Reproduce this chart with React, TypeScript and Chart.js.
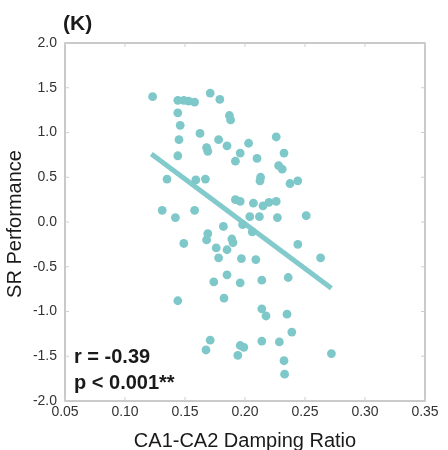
import React, { useEffect, useRef } from "react";
import { Chart, registerables } from "chart.js";

Chart.register(...registerables);

// Damping ratio (x) and SR performance (y) for each subject
const dampingRatio: number[] = [
  0.123, 0.144, 0.149, 0.153, 0.158, 0.171, 0.179, 0.144, 0.146, 0.1625,
  0.145, 0.178, 0.187, 0.188, 0.168, 0.169, 0.185, 0.144, 0.135, 0.167,
  0.159, 0.203, 0.226, 0.196, 0.192, 0.21, 0.2325, 0.228, 0.231, 0.213,
  0.2125, 0.2375, 0.244, 0.131, 0.142, 0.158, 0.182, 0.169, 0.168, 0.149,
  0.176, 0.178, 0.185, 0.174, 0.185, 0.192, 0.196, 0.207, 0.215, 0.22,
  0.226, 0.251, 0.204, 0.212, 0.227, 0.198, 0.206, 0.189, 0.19, 0.244,
  0.197, 0.209, 0.263, 0.196, 0.214, 0.236, 0.144, 0.1825, 0.171, 0.1675,
  0.214, 0.2175, 0.235, 0.239, 0.214, 0.2286, 0.196, 0.199, 0.194, 0.272,
  0.2325, 0.233,
];
const srPerformance: number[] = [
  1.4, 1.36, 1.36, 1.35, 1.34, 1.44, 1.37, 1.22, 1.08, 0.99,
  0.92, 0.92, 1.19, 1.14, 0.83, 0.79, 0.85, 0.74, 0.48, 0.48,
  0.47, 0.88, 0.95, 0.77, 0.68, 0.71, 0.77, 0.63, 0.59, 0.5,
  0.46, 0.43, 0.46, 0.13, 0.05, 0.13, -0.05, -0.13, -0.2, -0.24,
  -0.29, -0.4, -0.31, -0.67, -0.59, 0.25, 0.23, 0.21, 0.18, 0.22,
  0.23, 0.07, 0.06, 0.06, 0.05, -0.03, -0.11, -0.19, -0.23, -0.25,
  -0.41, -0.42, -0.4, -0.68, -0.65, -0.62, -0.88, -0.85, -1.32, -1.43,
  -0.97, -1.05, -1.03, -1.23, -1.33, -1.34, -1.38, -1.4, -1.49, -1.47,
  -1.55, -1.7,
];
// Regression line end points
const fitX: number[] = [0.122, 0.272];
const fitY: number[] = [0.76, -0.74];

const xTicks: number[] = [0.05, 0.1, 0.15, 0.2, 0.25, 0.3, 0.35];
const yTicks: number[] = [-2, -1.5, -1, -0.5, 0, 0.5, 1, 1.5, 2];

const panelLabel = "(K)";
const xTitle = "CA1-CA2 Damping Ratio";
const yTitle = "SR Performance";
const statR = "r = -0.39";
const statP = "p < 0.001**";

const FONT = "Arial, 'Liberation Sans', Helvetica, sans-serif";
const DOT = "rgb(126,200,201)";

const decor = {
  id: "decor",
  afterDraw(chart: any) {
    const { ctx, chartArea: a, scales } = chart;
    ctx.save();
    // box
    ctx.strokeStyle = "#b8b8b8";
    ctx.lineWidth = 1.5;
    ctx.strokeRect(a.left, a.top, a.right - a.left, a.bottom - a.top);
    // inward ticks
    ctx.lineWidth = 1;
    ctx.strokeStyle = "#cfcfcf";
    ctx.beginPath();
    xTicks.forEach((v) => {
      const px = scales.x.getPixelForValue(v);
      ctx.moveTo(px, a.bottom);
      ctx.lineTo(px, a.bottom - 4);
      ctx.moveTo(px, a.top);
      ctx.lineTo(px, a.top + 4);
    });
    yTicks.forEach((v) => {
      const py = scales.y.getPixelForValue(v);
      ctx.moveTo(a.left, py);
      ctx.lineTo(a.left + 4, py);
      ctx.moveTo(a.right, py);
      ctx.lineTo(a.right - 4, py);
    });
    ctx.stroke();

    ctx.fillStyle = "#1a1a1a";
    // panel label
    ctx.font = `bold 21px ${FONT}`;
    ctx.textAlign = "left";
    ctx.textBaseline = "alphabetic";
    ctx.fillText(panelLabel, 63, 30);
    // stats
    ctx.font = `bold 20px ${FONT}`;
    ctx.fillText(statR, 74, 363);
    ctx.fillText(statP, 74, 389);
    // x title
    ctx.font = `20px ${FONT}`;
    ctx.textAlign = "center";
    ctx.fillText(xTitle, (a.left + a.right) / 2 + 0, 447);
    // y title
    ctx.translate(21, (a.top + a.bottom) / 2 + 2);
    ctx.rotate(-Math.PI / 2);
    ctx.fillText(yTitle, 0, 0);
    ctx.restore();
  },
};

export default function App() {
  const ref = useRef<HTMLCanvasElement | null>(null);
  useEffect(() => {
    document.body.style.margin = "0";
    const canvas = ref.current;
    if (!canvas) return;
    const points = dampingRatio.map((x, i) => ({ x, y: srPerformance[i] }));
    const fit = fitX.map((x, i) => ({ x, y: fitY[i] }));
    const chart = new Chart(canvas, {
      type: "scatter",
      data: {
        datasets: [
          {
            type: "line",
            data: fit,
            borderColor: "rgb(130,202,203)",
            borderWidth: 5,
            pointRadius: 0,
            fill: false,
            order: 2,
          } as any,
          {
            data: points,
            backgroundColor: DOT,
            borderWidth: 0,
            pointRadius: 4.4,
            order: 1,
          },
        ],
      },
      options: {
        animation: false,
        responsive: false,
        events: [],
        layout: { padding: { top: 43, right: 23, left: 0, bottom: 0 } },
        plugins: { legend: { display: false }, tooltip: { enabled: false } },
        scales: {
          x: {
            type: "linear",
            min: 0.05,
            max: 0.35,
            afterBuildTicks: (s: any) => {
              s.ticks = xTicks.map((v) => ({ value: v }));
            },
            afterFit: (s: any) => {
              s.height = 49;
            },
            grid: { display: false, drawTicks: false },
            border: { display: false },
            ticks: {
              padding: 3,
              color: "#333",
              font: { family: FONT, size: 14 },
              maxRotation: 0,
              autoSkip: false,
              callback: (v: any) => Number(v).toFixed(2),
            },
          },
          y: {
            type: "linear",
            min: -2,
            max: 2,
            afterBuildTicks: (s: any) => {
              s.ticks = yTicks.map((v) => ({ value: v }));
            },
            afterFit: (s: any) => {
              s.width = 65;
            },
            grid: { display: false, drawTicks: false },
            border: { display: false },
            ticks: {
              padding: 8,
              color: "#333",
              font: { family: FONT, size: 14 },
              autoSkip: false,
              callback: (v: any) => Number(v).toFixed(1),
            },
          },
        },
      },
      plugins: [decor],
    });
    return () => chart.destroy();
  }, []);
  return (
    <div style={{ width: 448, height: 450, background: "#fff" }}>
      <canvas ref={ref} width={448} height={450} style={{ display: "block" }} />
    </div>
  );
}
